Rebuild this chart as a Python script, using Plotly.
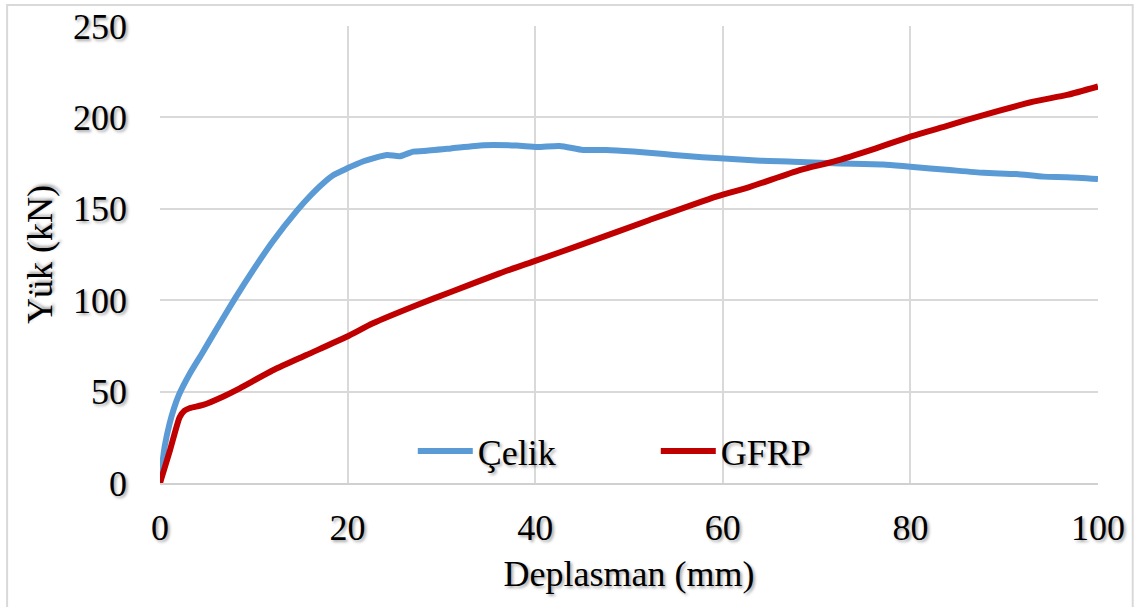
import plotly.graph_objects as go

# displacement (mm) / load (kN)
celik_x = [0, 0.5, 1, 1.5, 2, 3.2, 4.5, 6, 8, 10, 12, 14.6, 16, 17.4, 18.5, 19.9, 21.7, 23,
           24.2, 25.6, 27, 28.1, 31, 34.5, 38, 40.2, 42.6, 45.1, 47.6, 50.5, 53.7, 55.8,
           59.7, 64, 67.5, 71.8, 77.1, 80, 84.2, 87.8, 91.3, 94.2, 96.7, 100]
celik_y = [0, 20, 32, 41, 48, 60, 71, 84, 101, 117, 132, 149, 157, 164, 168.5, 172, 176, 178,
           179.4, 178.8, 181.3, 181.6, 183, 184.8, 184.6, 183.8, 184.4, 182.2, 182.2, 181.3, 180, 179,
           177.6, 176.3, 175.8, 174.9, 174.3, 173, 171.2, 169.7, 169, 167.6, 167.3, 166.3]

gfrp_x = [0, 1.07, 2.1, 2.6, 3.2, 4.6, 6.7, 8.5, 12.1, 15.6, 19.9, 22.7, 27.4, 31, 36.2, 40,
          45, 52.2, 59.3, 62.9, 68.2, 71.8, 76, 80, 84, 87.8, 93.1, 96.7, 100]
gfrp_y = [0, 18, 36, 39.5, 41, 42.7, 47.2, 51.8, 61.8, 70, 80, 87.4, 97.4, 104.5, 114.7, 121.5,
          130.5, 143.9, 156.7, 162, 171.2, 175.8, 182.5, 189.5, 195.5, 201.3, 208.6, 212.3, 216.9]

x_ticks = [0, 20, 40, 60, 80, 100]
y_ticks = [0, 50, 100, 150, 200, 250]

shadow = '2px 2px 3px rgba(0,0,0,0.35)'
fnt = dict(family='Liberation Serif, Times New Roman, serif', size=36, color='black', shadow=shadow)

fig = go.Figure()
fig.add_trace(go.Scatter(x=celik_x, y=celik_y, mode='lines', name='Çelik',
                         line=dict(color='#5b9bd5', width=6, shape='spline', smoothing=0.6)))
fig.add_trace(go.Scatter(x=gfrp_x, y=gfrp_y, mode='lines', name='GFRP',
                         line=dict(color='#c00000', width=6, shape='spline', smoothing=0.6)))

fig.update_layout(
    width=1135, height=607,
    margin=dict(l=160, r=37, t=26, b=124),
    paper_bgcolor='white', plot_bgcolor='white',
    font=fnt,
    showlegend=True,
    legend=dict(orientation='h', x=0.2695, y=0.07, xanchor='left', yanchor='middle',
                bgcolor='rgba(0,0,0,0)', font=fnt, entrywidth=173, itemwidth=55),
    shapes=[dict(type='rect', xref='paper', yref='paper', x0=-0.163, x1=1.037, y0=-0.3, y1=1.046,
                 line=dict(color='#d9d9d9', width=2), layer='below')],
)
fig.update_xaxes(range=[0, 100], tickvals=x_ticks, showgrid=True, gridcolor='#d9d9d9', gridwidth=1.5,
                 showline=True, linecolor='#d0d0d0', linewidth=2, zeroline=False, automargin=False,
                 ticks='', ticklabelstandoff=12, tickfont=fnt,
                 title=dict(text='Deplasman (mm)', font=fnt, standoff=14))
fig.update_yaxes(range=[0, 250], tickvals=y_ticks, showgrid=True, gridcolor='#d9d9d9', gridwidth=1.5,
                 showline=False, zeroline=False, automargin=False,
                 ticks='', ticklabelstandoff=32, tickfont=fnt,
                 title=dict(text='Yük (kN)', font=fnt, standoff=9))

fig.write_html('out.html', config={'displayModeBar': False},
               post_script="document.body.style.margin='0';")
